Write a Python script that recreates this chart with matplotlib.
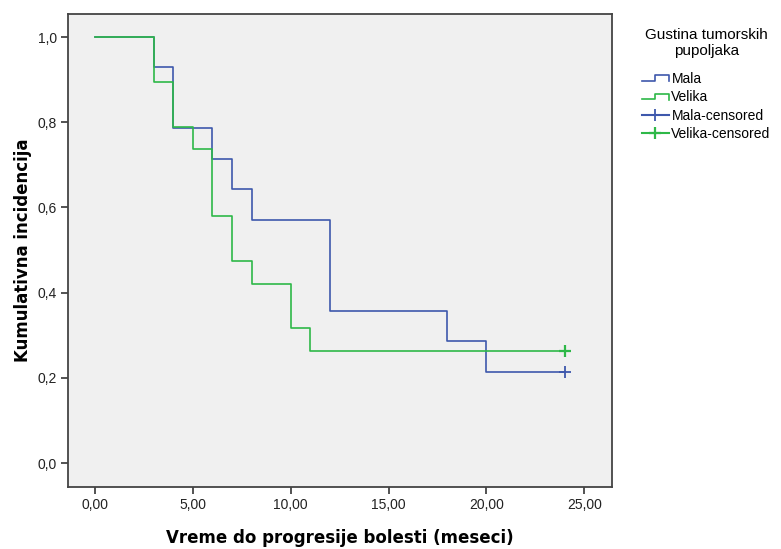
import numpy as np
import matplotlib
matplotlib.use("Agg")
import matplotlib.pyplot as plt
from matplotlib.legend_handler import HandlerBase
from matplotlib.lines import Line2D

# Kaplan-Meier step data (months, cumulative incidence)
mala_t = [0, 3, 4, 6, 7, 8, 12, 18, 20, 24]
mala_s = [1.0, 0.929, 0.786, 0.714, 0.643, 0.571, 0.357, 0.286, 0.214, 0.214]
velika_t = [0, 3, 4, 5, 6, 7, 8, 10, 11, 24]
velika_s = [1.0, 0.895, 0.789, 0.737, 0.579, 0.474, 0.421, 0.316, 0.263, 0.263]
mala_cens_t, mala_cens_s = [24], [0.214]
velika_cens_t, velika_cens_s = [24], [0.263]

x_ticks = [0, 5, 10, 15, 20, 25]
y_ticks = [0.0, 0.2, 0.4, 0.6, 0.8, 1.0]

BLUE = '#3e58ac'
GREEN = '#2eb848'


class StepHandler(HandlerBase):
    """Legend icon shaped like a little KM step."""
    def create_artists(self, legend, orig_handle, xdescent, ydescent,
                       width, height, fontsize, trans):
        x0, x1 = -xdescent, -xdescent + width
        xm = x0 + width * 0.5
        yl = -ydescent + height * 0.2
        yh = -ydescent + height * 0.75
        line = Line2D([x0, xm, xm, x1, x1], [yl, yl, yh, yh, yl - height * 0.05],
                      color=orig_handle.get_color(), lw=1.2)
        line.set_transform(trans)
        return [line]


fig = plt.figure(figsize=(7.81, 5.49), dpi=100)
ax = fig.add_axes([68 / 781, 1 - 487 / 549, (612 - 68) / 781, (487 - 14) / 549])
ax.set_facecolor('#f0f0f0')

l_mala, = ax.step(mala_t, mala_s, where='post', color=BLUE, lw=1.2)
l_vel, = ax.step(velika_t, velika_s, where='post', color=GREEN, lw=1.2)
c_mala, = ax.plot(mala_cens_t, mala_cens_s, '+', color=BLUE, ms=8, mew=1.3, ls='-')
c_vel, = ax.plot(velika_cens_t, velika_cens_s, '+', color=GREEN, ms=8, mew=1.6, ls='-')

ax.set_xlim(-1.38, 26.42)
ax.set_ylim(-0.056, 1.054)
ax.set_xticks(x_ticks)
ax.set_xticklabels([f'{v:.2f}'.replace('.', ',') for v in x_ticks])
ax.set_yticks(y_ticks)
ax.set_yticklabels([f'{v:.1f}'.replace('.', ',') for v in y_ticks])
for lab in ax.get_xticklabels() + ax.get_yticklabels():
    lab.set_fontfamily('Liberation Sans')
    lab.set_fontsize(10)
    lab.set_color('#222222')
ax.tick_params(direction='out', length=5, width=1.3, color='#444444', pad=3)
for sp in ax.spines.values():
    sp.set_color('#444444')
    sp.set_linewidth(1.3)

ax.set_xlabel('Vreme do progresije bolesti (meseci)', fontsize=12,
              fontweight='bold', labelpad=12)
ax.set_ylabel('Kumulativna incidencija', fontsize=12, fontweight='bold',
              labelpad=4)

leg = ax.legend([l_mala, l_vel, c_mala, c_vel],
                ['Mala', 'Velika', 'Mala-censored', 'Velika-censored'],
                handler_map={l_mala: StepHandler(), l_vel: StepHandler()},
                title='Gustina tumorskih\npupoljaka', loc='upper left',
                bbox_to_anchor=(636 / 781, 1 - 22 / 549),
                bbox_transform=fig.transFigure, frameon=False,
                prop={'family': 'Liberation Sans', 'size': 10},
                handlelength=2.0, handletextpad=0.15, labelspacing=0.32,
                borderaxespad=0)
leg.get_title().set_fontfamily('Liberation Sans')
leg.get_title().set_fontsize(11)
leg.get_title().set_multialignment('center')
leg._legend_box.align = 'center'
leg._legend_box.sep = 10

fig.savefig('out.png', dpi=100, facecolor='white')
